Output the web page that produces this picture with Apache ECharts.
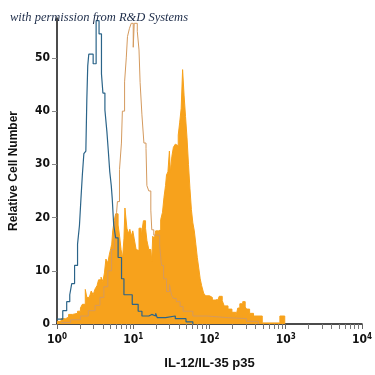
<!DOCTYPE html>
<html>
<head>
<meta charset="utf-8">
<script src="https://cdn.jsdelivr.net/npm/echarts@6/dist/echarts.min.js"></script>
<style>html,body{margin:0;padding:0;background:#fff}#c{width:375px;height:375px}</style>
</head>
<body>
<div id="c"></div>
<script>
// Isotype control (blue outline)
var isoIntensity = [1.0,1.19,1.34,1.47,1.56,1.70,1.86,1.97,2.06,2.15,2.25,2.39,2.46,2.53,2.61,2.98,3.26,3.56,3.83,4.0,4.25,4.51,4.71,4.92,5.15,5.30,5.54,5.88,6.33,7.02,7.55,9.7,11.6,13.0,16.0,17.5,19.7,20.6,26.5,35.6,49.2,60.5];
var isoCount = [0.9,2.5,4.2,5.5,7.6,11,15,18.5,23.5,28,32,32.5,42,48.5,50.7,48.9,57,54.5,47,43.4,40.2,36.2,32.5,28.6,26,23.6,18.6,16.2,12.5,8.5,5.5,3.7,2.4,1.5,1.8,1.5,2.0,1.2,1.5,1.0,0.4,0];
// Control (light orange outline)
var ctlIntensity = [1.13,1.51,2.03,2.57,3.16,3.66,4.12,4.64,5.2,5.7,6.05,6.2,6.6,7.0,7.2,7.7,8.1,8.4,8.9,9.4,10.0,10.3,11.3,11.9,12.3,13.0,13.8,14.7,15.1,16.0,17.0,17.5,18.6,22.2,23.5,25,27.3,29.9,31.7,33.5,36.7,41.1,45,60.5,94,170,306,437];
var ctlCount = [0.3,0.8,1.5,2.5,3.5,5,7,10,14,18,21,23,29,34,40,45.5,50,54,55.5,56.5,52,56.5,55,51.5,45.4,39.3,34,33,26,25,21.4,17.7,16.7,14.8,11,8.5,6.1,7.4,5.5,4.8,4.2,3.3,2.4,1.5,1.2,1.0,0.5,0];
// Stained sample (filled orange)
var stIntensity = [1.0,1.13,1.30,1.42,1.60,1.86,2.03,2.15,2.35,2.46,2.65,2.81,2.98,3.16,3.35,3.51,3.78,4.0,4.19,4.38,4.64,4.85,5.07,5.22,5.38,5.62,5.88,6.33,6.62,6.92,7.23,7.55,7.78,8.26,8.63,9.02,9.42,9.86,10.3,10.9,11.4,11.9,12.7,13.0,13.6,14.5,15.1,16.0,17.0,17.5,18.0,18.9,19.7,21.5,22.9,24.2,25.3,26.5,27.3,28.5,29.8,30.7,32.1,33.6,35.6,37.2,38.9,40.6,42.5,44.4,46.4,48.5,50.7,53.0,55.4,57.9,60.5,63.2,66.2,69.2,72.3,75.5,78.9,83.8,88.9,100,109,119,127,134,147,156,175,197,222,235,250,273,294,307,336,378,492,838,971];
var stCount = [0.5,1.0,1.3,1.8,2.0,2.4,3.0,3.7,6.5,5.0,5.2,6.2,5.5,6.6,7.2,8.3,8.8,8.0,9.6,12.2,11.5,13,14.2,15,17.5,19.4,20.7,18.6,16.5,14,12.3,16,21.8,18,17,17.8,16.5,17.5,16,14,13.8,18,16.5,17.5,19.4,18,15.7,14,13.8,11.8,16.5,16.0,17.5,17.7,19.6,21,23.8,26,28,28.6,32.5,28.5,31.5,33.2,33.8,33.5,35.5,37.8,40.5,47.8,43,39,35,30,25.5,21.5,19,17.5,15,12.5,10.5,8.5,7.2,5.8,5.3,5.0,4.5,4.6,4.2,5.2,4.4,3.4,2.8,2.2,1.5,3.0,3.8,4.2,3.2,2.8,2.0,1.5,0.2,1.5,0];
// Axis ticks
var yTickValues = [0,10,20,30,40,50];
var xMajorTicks = [1,10,100,1000,10000];
var xMinorTicks = [2,3,4,5,6,7,8,9,20,30,40,50,60,70,80,90,200,300,400,500,600,700,800,900,2000,3000,4000,5000,6000,7000,8000,9000];

function zip(xs, ys){ return xs.map(function(x,i){ return [x, ys[i]]; }); }

var narrow = "'Liberation Sans Narrow','DejaVu Sans Condensed','Liberation Sans',sans-serif";
var chart = echarts.init(document.getElementById('c'), null, {renderer:'canvas'});
chart.setOption({
  animation: false,
  backgroundColor: '#fff',
  title: {
    text: 'with permission from R&D Systems',
    left: 5, top: 6,
    textStyle: {fontFamily: "'Liberation Serif','DejaVu Serif',serif", fontStyle:'italic', fontWeight:'normal', fontSize: 12.5, color:'#1c2b48'}
  },
  grid: {left: 56, right: 7, top: 18, bottom: 47},
  xAxis: [{
    type: 'log', logBase: 10, min: 1, max: 10000,
    axisLine: {show:true, lineStyle:{color:'#111', width:1.5}},
    axisTick: {show:true, length:5, lineStyle:{color:'#666'}, customValues: xMajorTicks},
    axisLabel: {
      margin: 9,
      customValues: xMajorTicks,
      formatter: function(v){ var k = Math.round(Math.log10(v)); return '{b|10}{s|' + k + '}'; },
      rich: {
        b: {fontFamily: narrow, fontWeight:'bold', fontSize: 12, color:'#111'},
        s: {fontFamily: narrow, fontWeight:'bold', fontSize: 8, color:'#111', padding:[0,0,6,0]}
      }
    },
    splitLine: {show:false},
    name: 'IL-12/IL-35 p35', nameLocation: 'middle', nameGap: 33,
    nameTextStyle: {fontFamily: "'Liberation Sans','Arial',sans-serif", fontWeight:'bold', fontSize: 13, color:'#111'}
  },{
    type: 'log', logBase: 10, min: 1, max: 10000, position: 'bottom',
    axisLine: {show:false},
    axisTick: {show:true, length:5, lineStyle:{color:'#777'}, customValues: xMinorTicks},
    axisLabel: {show:false},
    splitLine: {show:false}
  }],
  yAxis: {
    type: 'value', min: 0, max: 57.5,
    axisLine: {show:true, lineStyle:{color:'#111', width:1.5}},
    axisTick: {show:true, length:5, lineStyle:{color:'#888'}, customValues: yTickValues},
    axisLabel: {customValues: yTickValues, margin: 7, fontFamily: narrow, fontWeight:'bold', fontSize: 12, color:'#111'},
    splitLine: {show:false},
    name: 'Relative Cell Number', nameLocation: 'middle', nameGap: 37,
    nameTextStyle: {fontFamily: "'Liberation Sans','Arial',sans-serif", fontWeight:'bold', fontSize: 12, color:'#111'}
  },
  series: [{
    type: 'line', step: 'end', symbol: 'none', z: 1,
    data: zip(stIntensity, stCount),
    lineStyle: {color:'#f7a21c', width:1},
    areaStyle: {color:'#f7a21c', opacity:1}
  },{
    type: 'line', step: 'end', symbol: 'none', z: 2,
    data: zip(ctlIntensity, ctlCount),
    lineStyle: {color:'#d49a5e', width:1}
  },{
    type: 'line', step: 'end', symbol: 'none', z: 3,
    data: zip(isoIntensity, isoCount),
    lineStyle: {color:'#2b6489', width:1.2}
  }]
});
</script>
</body>
</html>
